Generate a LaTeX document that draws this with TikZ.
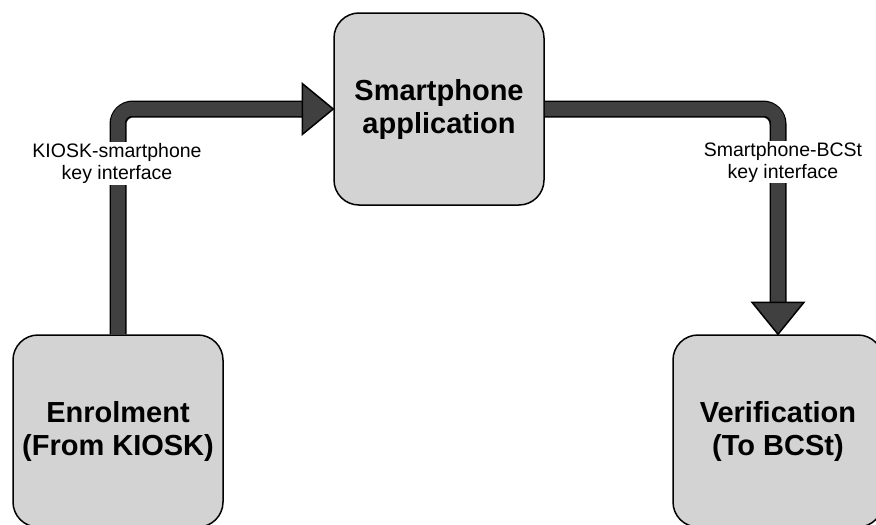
\documentclass[tikz,border=0pt]{standalone}
\usepackage{fontspec}
\setmainfont{Liberation Sans}
\usetikzlibrary{calc}
\definecolor{boxfill}{RGB}{211,211,211}
\definecolor{pipefill}{RGB}{64,64,64}
\tikzset{
  stagebox/.style={draw=black, line width=1.5pt, fill=boxfill, rounded corners=25pt,
    minimum width=210pt, minimum height=192pt, align=center, text=black,
    font=\bfseries\fontsize{29pt}{33pt}\selectfont},
  pipeout/.style={draw=black, line width=17pt, rounded corners=15pt},
  pipein/.style={draw=pipefill, line width=14pt, rounded corners=13.5pt},
  pipehead/.style={fill=pipefill, draw=black, line width=1.5pt, line join=miter},
  keylabel/.style={fill=white, align=center, inner xsep=1pt, inner ysep=1pt, text=black,
    font=\fontsize{19.5pt}{22pt}\selectfont}
}
\begin{document}
\begin{tikzpicture}[x=1pt, y=-1pt]
\useasboundingbox (0,0) rectangle (876,525);
\clip (0,0) rectangle (876,525);

% stages
\node[stagebox] (app) at (439,109) {Smartphone\\application};
\node[stagebox] (enr) at (118,431) {Enrolment\\(From KIOSK)};
\node[stagebox] (ver) at (778,431) {Verification\\(To BCSt)};

% KIOSK -> smartphone pipe
\coordinate (h1) at ($(app.west)+(-31,0)$);
\draw[pipeout] (enr.north) |- (h1);
\draw[pipein] (enr.north) |- (h1);
\draw[pipehead] (app.west) -- ($(app.west)+(-31,-25.5)$) -- ($(app.west)+(-31,25.5)$) -- cycle;

% smartphone -> BCSt pipe
\coordinate (h2) at ($(ver.north)+(0,-32)$);
\draw[pipeout] (app.east) -| (h2);
\draw[pipein] (app.east) -| (h2);
\draw[pipehead] (ver.north) -- ($(ver.north)+(-26,-32)$) -- ($(ver.north)+(26,-32)$) -- cycle;

% interface labels
\node[keylabel] (k1) at (117,163.5) {KIOSK-smartphone\\key interface};
\node[keylabel] (k2) at (783,162) {Smartphone-BCSt\\key interface};
\end{tikzpicture}
\end{document}
